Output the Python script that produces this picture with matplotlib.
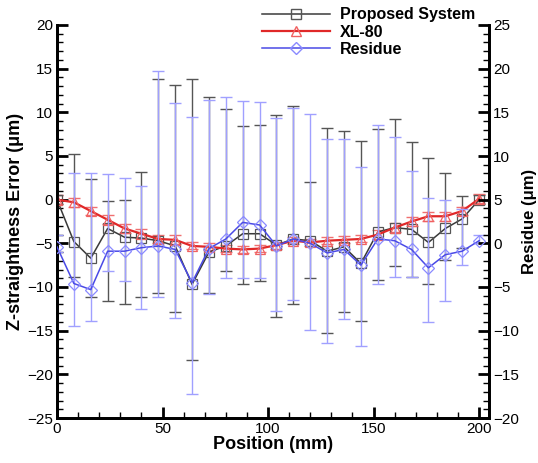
import matplotlib
matplotlib.use("Agg")
import matplotlib.pyplot as plt
from matplotlib.ticker import MultipleLocator
from matplotlib.lines import Line2D

plt.rcParams['font.family'] = ['Liberation Sans', 'DejaVu Sans']

# ---- data ----
position = [0, 8, 16, 24, 32, 40, 48, 56, 64, 72, 80, 88, 96, 104, 112,
            120, 128, 136, 144, 152, 160, 168, 176, 184, 192, 200]

proposed = [0.0, -4.8, -6.7, -3.3, -4.3, -4.4, -4.7, -5.3, -9.7, -6.0, -5.3,
            -3.9, -3.9, -5.2, -4.5, -4.7, -5.9, -5.4, -7.3, -3.7, -3.2, -3.4,
            -4.9, -3.3, -2.2, 0.0]
proposed_lo = [-0.5, -8.9, -11.2, -11.6, -12.0, -11.1, -10.7, -12.9, -18.4,
               -10.7, -8.2, -9.6, -9.3, -13.4, -12.0, -9.0, -15.3, -12.9,
               -13.9, -9.2, -7.6, -8.9, -9.6, -6.9, -5.5, -0.5]
proposed_hi = [0.5, 5.2, 2.4, -0.1, 0.0, 3.2, 13.8, 13.1, 13.8, 11.7, 10.4,
               8.4, 8.6, 9.7, 10.7, 2.0, 8.2, 7.9, 6.7, 8.1, 9.2, 6.6, 4.8,
               3.1, 0.4, 0.5]

xl80 = [0.0, -0.3, -1.3, -2.3, -3.3, -3.9, -4.5, -4.6, -5.3, -5.4, -5.6,
        -5.7, -5.6, -5.2, -4.7, -4.9, -4.7, -4.6, -4.5, -4.0, -3.2, -2.5,
        -1.9, -1.9, -1.3, 0.1]
xl80_err = [0.5, 0.5, 0.5, 0.5, 0.5, 0.5, 0.5, 0.5, 0.4, 0.4, 0.4, 0.4, 0.4,
            0.4, 0.4, 0.4, 0.4, 0.4, 0.4, 0.5, 0.5, 0.5, 0.5, 0.5, 0.5, 0.5]

residue = [-0.4, -4.6, -5.3, -0.9, -0.9, -0.5, -0.3, -0.7, -4.5, -0.6, 0.5,
           2.4, 2.1, -0.3, 0.5, 0.0, -1.1, -0.7, -2.5, 0.5, 0.3, -0.7, -2.8,
           -1.3, -0.9, 0.3]
residue_lo = [-1.0, -9.5, -8.9, -3.2, -4.3, -7.5, -6.1, -8.5, -17.2, -5.8,
              -4.0, -4.0, -4.0, -7.8, -6.5, -9.9, -11.4, -8.7, -11.7, -4.7,
              -3.9, -3.9, -9.0, -6.6, -2.5, 0.0]
residue_hi = [1.0, 8.0, 8.0, 7.9, 7.5, 6.6, 19.7, 16.1, 14.5, 16.4, 16.7,
              16.3, 16.2, 14.4, 15.5, 14.8, 12.0, 11.9, 8.7, 13.6, 12.2, 8.3,
              5.2, 5.0, 3.9, 1.0]

# ---- figure ----
fig = plt.figure(figsize=(5.38, 4.63), dpi=100)
ax = fig.add_axes([57/538, 45/463, 432/538, 393/463])
ax2 = ax.twinx()

c_black = '#3a3a3a'
c_black_err = '#555555'
c_red = '#e02828'
c_blue = '#4a4ae6'
c_blue_err = '#a0a0ff'

res_err = [[r - lo for r, lo in zip(residue, residue_lo)],
           [hi - r for r, hi in zip(residue, residue_hi)]]
ax2.errorbar(position, residue, yerr=res_err, fmt='none', ecolor=c_blue_err,
             elinewidth=1.0, capsize=4, capthick=1.0, zorder=1)

prop_err = [[p - lo for p, lo in zip(proposed, proposed_lo)],
            [hi - p for p, hi in zip(proposed, proposed_hi)]]
ax.errorbar(position, proposed, yerr=prop_err, fmt='none', ecolor=c_black_err,
            elinewidth=1.0, capsize=4, capthick=1.0, zorder=2)
ax.errorbar(position, xl80, yerr=xl80_err, fmt='none', ecolor='#f07070',
            elinewidth=1.0, capsize=4, capthick=1.0, zorder=3)

ax.plot(position, proposed, color=c_black, lw=1.1, marker='s', ms=7,
        mfc='none', mec='#555555', mew=0.9, zorder=4)
ax.plot(position, xl80, color=c_red, lw=1.6, marker='^', ms=7,
        mfc='none', mec='#f06060', mew=0.9, zorder=5)
ax2.plot(position, residue, color=c_blue, lw=1.1, marker='D', ms=6.5,
         mfc='none', mec='#8a8aff', mew=0.9, zorder=4)

ax.set_xlim(0, 204.7)
ax.set_ylim(-25, 20)
ax2.set_ylim(-20, 25)

ax.xaxis.set_major_locator(MultipleLocator(50))
ax.xaxis.set_minor_locator(MultipleLocator(10))
ax.yaxis.set_major_locator(MultipleLocator(5))
ax.yaxis.set_minor_locator(MultipleLocator(1))
ax2.yaxis.set_major_locator(MultipleLocator(5))
ax2.yaxis.set_minor_locator(MultipleLocator(1))

for a in (ax, ax2):
    a.spines['top'].set_visible(False)
    for s in ('left', 'right', 'bottom'):
        a.spines[s].set_linewidth(2.0)
    a.tick_params(which='major', direction='in', length=8, width=2.0,
                  labelsize=11, pad=3)
    a.tick_params(which='minor', direction='in', length=4, width=1.0)
ax.tick_params(axis='x', which='both', top=False)

ax.set_xlabel('Position (mm)', fontsize=13, fontweight='bold', labelpad=0)
ax.set_ylabel('Z-straightness Error (μm)', fontsize=13, fontweight='bold',
              labelpad=2)
ax2.set_ylabel('Residue (μm)', fontsize=12, fontweight='bold')
ax2.yaxis.set_label_coords(1.077, 0.5)

handles = [
    Line2D([], [], color=c_black, lw=1.1, marker='s', ms=7, mfc='none',
           mec='#555555'),
    Line2D([], [], color=c_red, lw=1.6, marker='^', ms=7, mfc='none',
           mec='#f06060'),
    Line2D([], [], color=c_blue, lw=1.1, marker='D', ms=6.5, mfc='none',
           mec='#8a8aff'),
]
fig.legend(handles, ['Proposed System', 'XL-80', 'Residue'],
           loc='upper left', bbox_to_anchor=(252/538, 1.005), frameon=False,
           prop={'weight': 'bold', 'size': 11.5}, handlelength=4.3,
           labelspacing=0.15, handletextpad=0.6, borderaxespad=0.2)

fig.savefig('out.png', dpi=100)
